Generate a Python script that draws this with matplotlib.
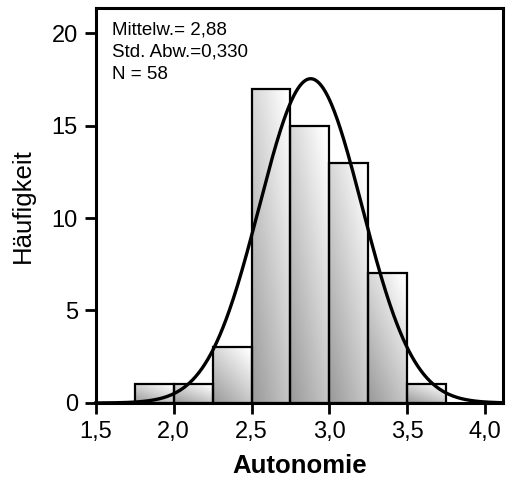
import numpy as np
import matplotlib.pyplot as plt
from matplotlib.patches import Rectangle

# ============================================
# Data
# ============================================

bin_left  = [1.75, 2.00, 2.25, 2.50, 2.75, 3.00, 3.25, 3.50]
counts    = [1, 1, 3, 17, 15, 13, 7, 1]
bin_width = 0.25

mean_val = 2.88
std_val  = 0.330
n_total  = 58

x_ticks  = [1.5, 2.0, 2.5, 3.0, 3.5, 4.0]
x_labels = ["1,5", "2,0", "2,5", "3,0", "3,5", "4,0"]
y_ticks  = [0, 5, 10, 15, 20]

plt.rcParams["font.family"] = ["Liberation Sans", "DejaVu Sans"]

fig = plt.figure(figsize=(5.1, 4.87), dpi=100)
ax = fig.add_axes([0.188, 0.1725, 0.798, 0.811])

# gradient bars: dark bottom-left -> white top-right
gx, gy = np.meshgrid(np.linspace(0, 1, 60), np.linspace(0, 1, 60))
grad = np.clip(0.45 * gx + 0.6 * gy, 0, 1)
shade = 0.6 + 0.4 * grad

for left, h in zip(bin_left, counts):
    rect = Rectangle((left, 0), bin_width, h, facecolor="none",
                     edgecolor="black", linewidth=1.6, zorder=3)
    ax.add_patch(rect)
    im = ax.imshow(shade, cmap="gray", vmin=0, vmax=1, origin="lower",
                   extent=(left, left + bin_width, 0, h), aspect="auto",
                   interpolation="bilinear", zorder=2)
    im.set_clip_path(rect)

# normal curve
xs = np.linspace(1.5, 4.115, 400)
ys = n_total * bin_width / (std_val * np.sqrt(2 * np.pi)) * \
    np.exp(-0.5 * ((xs - mean_val) / std_val) ** 2)
ax.plot(xs, ys, color="black", linewidth=2.4, zorder=4, clip_on=False)

ax.set_aspect("auto")
ax.set_xlim(1.5, 4.115)
ax.set_ylim(0, 21.35)

for s in ax.spines.values():
    s.set_linewidth(2.2)

ax.set_xticks(x_ticks)
ax.set_xticklabels(x_labels)
ax.set_yticks(y_ticks)
ax.tick_params(axis="both", direction="out", length=8, width=2.0,
               labelsize=17, pad=5)

ax.set_xlabel("Autonomie", fontsize=18.5, fontweight="bold", labelpad=8)
ax.set_ylabel("Häufigkeit", fontsize=18.5, labelpad=12)

stats_txt = "Mittelw.= 2,88\nStd. Abw.=0,330\nN = 58"
ax.text(0.04, 0.965, stats_txt, transform=ax.transAxes, fontsize=13.5,
        va="top", ha="left", linespacing=1.38)

fig.savefig("out.png", dpi=100)
